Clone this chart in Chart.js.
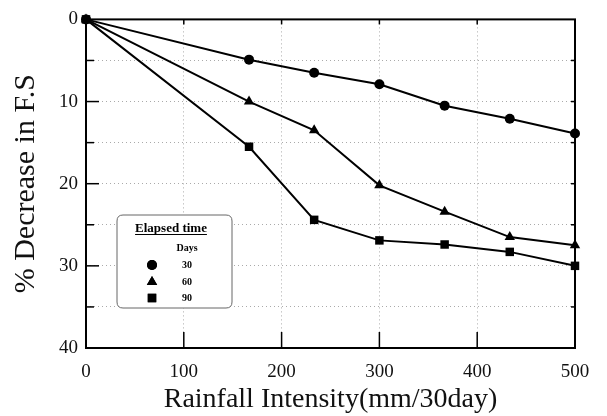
<!DOCTYPE html>
<html><head><meta charset="utf-8">
<script src="https://cdn.jsdelivr.net/npm/chart.js@4.4.0/dist/chart.umd.min.js"></script>
<style>html,body{margin:0;padding:0;background:#fff}#wrap{width:607px;height:416px}</style>
</head><body><div id="wrap"><canvas id="c" width="607" height="416"></canvas></div>
<script>
const rainfall = [0, 166.7, 233.3, 300, 366.7, 433.3, 500];
const days30 = [0, 4.9, 6.5, 7.9, 10.5, 12.1, 13.9];
const days60 = [0, 10.0, 13.5, 20.2, 23.4, 26.5, 27.5];
const days90 = [0, 15.5, 24.4, 26.9, 27.4, 28.3, 30.0];
const seriesLabels = ['30', '60', '90'];
const xTicks = [0, 100, 200, 300, 400, 500];
const yTicks = [0, 10, 20, 30, 40];
const serif = '"Liberation Serif", "DejaVu Serif", serif';

function pts(vals){ return rainfall.map((x,i)=>({x:x, y:vals[i]})); }

const frame = {
  id:'frame',
  afterDraw(chart){
    const ctx = chart.ctx, a = chart.chartArea;
    const xs = chart.scales.x, ys = chart.scales.y;
    ctx.save();
    ctx.strokeStyle = '#000'; ctx.lineWidth = 2;
    ctx.strokeRect(a.left, a.top, a.right - a.left, a.bottom - a.top);
    ctx.lineWidth = 1.5;
    [100,200,300,400].forEach(v=>{
      const px = xs.getPixelForValue(v);
      ctx.beginPath(); ctx.moveTo(px, a.bottom); ctx.lineTo(px, a.bottom-16); ctx.stroke();
      ctx.beginPath(); ctx.moveTo(px, a.top); ctx.lineTo(px, a.top+5); ctx.stroke();
    });
    [5,10,15,20,25,30,35].forEach(v=>{
      const py = ys.getPixelForValue(v);
      const len = v%10===0 ? 13 : 8;
      ctx.beginPath(); ctx.moveTo(a.left, py); ctx.lineTo(a.left+len, py); ctx.stroke();
      ctx.beginPath(); ctx.moveTo(a.right, py); ctx.lineTo(a.right-4, py); ctx.stroke();
    });
    const bx=117, by=215, bw=115, bh=93, r=6;
    ctx.lineWidth = 1; ctx.strokeStyle = '#666';
    ctx.fillStyle = '#fff';
    ctx.beginPath();
    ctx.moveTo(bx+r,by); ctx.lineTo(bx+bw-r,by); ctx.quadraticCurveTo(bx+bw,by,bx+bw,by+r);
    ctx.lineTo(bx+bw,by+bh-r); ctx.quadraticCurveTo(bx+bw,by+bh,bx+bw-r,by+bh);
    ctx.lineTo(bx+r,by+bh); ctx.quadraticCurveTo(bx,by+bh,bx,by+bh-r);
    ctx.lineTo(bx,by+r); ctx.quadraticCurveTo(bx,by,bx+r,by); ctx.closePath();
    ctx.fill(); ctx.stroke();
    ctx.fillStyle = '#000';
    ctx.font = 'bold 13px ' + serif;
    ctx.textAlign = 'center'; ctx.textBaseline = 'alphabetic';
    const title = 'Elapsed time';
    ctx.fillText(title, 171, 232);
    const tw = ctx.measureText(title).width;
    ctx.lineWidth = 1; ctx.strokeStyle = '#000';
    ctx.beginPath(); ctx.moveTo(171-tw/2, 234.5); ctx.lineTo(171+tw/2, 234.5); ctx.stroke();
    ctx.font = 'bold 10px ' + serif;
    ctx.fillText('Days', 187, 251);
    const rows = [268, 285, 301];
    const styles = ['circle','triangle','rect'];
    const sizes = [5, 6, 6];
    rows.forEach((y,i)=>{
      Chart.helpers.drawPoint(ctx, {pointStyle: styles[i], radius: sizes[i], rotation: 0, borderWidth: 0}, 152, y-3);
      ctx.fillStyle = '#000';
      ctx.fill();
      ctx.fillText(seriesLabels[i], 187, y);
    });
    ctx.restore();
  }
};

const ds = (label, vals, style, radius) => ({
  label, data: pts(vals), borderColor:'#000', backgroundColor:'#000', borderWidth:2,
  pointStyle: style, pointRadius: radius, pointBorderWidth: 0, pointBackgroundColor:'#000',
  tension: 0, clip: false
});

new Chart(document.getElementById('c'), {
  type: 'line',
  data: { datasets: [
    ds(seriesLabels[0], days30, 'circle', 5),
    ds(seriesLabels[1], days60, 'triangle', 6),
    ds(seriesLabels[2], days90, 'rect', 6)
  ]},
  options: {
    responsive: false, animation: false, devicePixelRatio: 1,
    layout: { padding: { top: 16, right: 32, left: 0, bottom: 0 } },
    plugins: { legend: { display: false }, tooltip: { enabled: false } },
    scales: {
      x: {
        type: 'linear', min: 0, max: 500,
        afterBuildTicks: s => { s.ticks = xTicks.map(v=>({value:v})); },
        afterFit: s => { s.height = 68; },
        grid: { color: '#aaa', lineWidth: 1, drawTicks: false },
        border: { display: false, dash: [1,3] },
        ticks: { color: '#111', font: { family: serif, size: 19 }, padding: 13, maxRotation: 0 },
        title: { display: true, text: 'Rainfall Intensity(mm/30day)', color: '#111',
                 font: { family: serif, size: 28 }, padding: { top: 2, bottom: 0 } }
      },
      y: {
        type: 'linear', reverse: true, min: 0, max: 40,
        afterBuildTicks: s => { s.ticks = [0,5,10,15,20,25,30,35,40].map(v=>({value:v})); },
        afterFit: s => { s.width = 86; },
        grid: { color: '#aaa', lineWidth: 1, drawTicks: false },
        border: { display: false, dash: [1,3] },
        ticks: { color: '#111', font: { family: serif, size: 19 }, padding: 8,
                 callback: v => (yTicks.includes(v) ? String(v) : '') },
        title: { display: true, text: '% Decrease in F.S', color: '#111',
                 font: { family: serif, size: 30 }, padding: { top: 8, bottom: 0 } }
      }
    }
  },
  plugins: [frame]
});
</script></body></html>
